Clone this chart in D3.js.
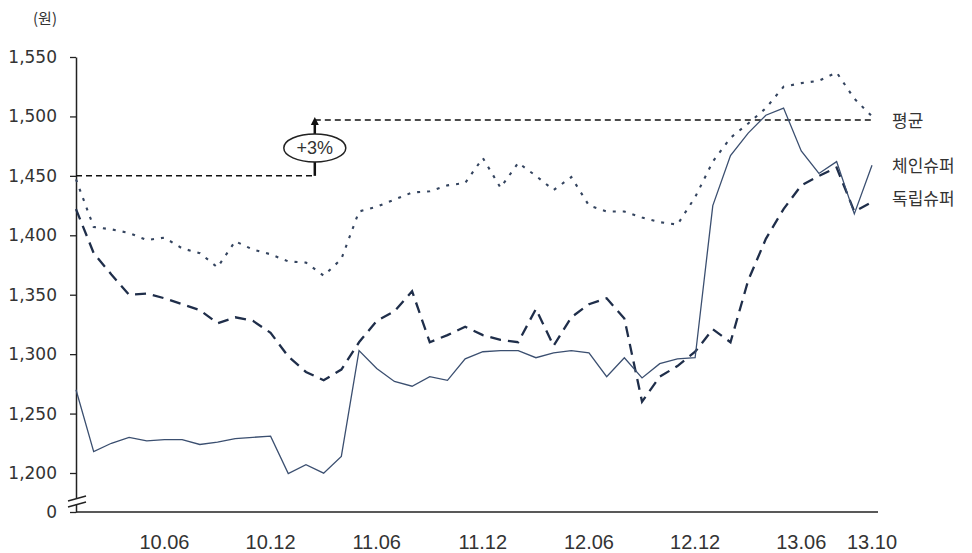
<!DOCTYPE html>
<html>
<head>
<meta charset="utf-8">
<script src="https://cdn.jsdelivr.net/npm/d3@7/dist/d3.min.js"></script>
<style>
  body { margin: 0; background: #fff; }
  svg text { fill: #333; }
</style>
</head>
<body>
<svg id="chart" width="972" height="553"></svg>
<script>
// monthly categories, 2010.01 - 2013.10
var months = [
  "10.01","10.02","10.03","10.04","10.05","10.06","10.07","10.08","10.09","10.10","10.11","10.12",
  "11.01","11.02","11.03","11.04","11.05","11.06","11.07","11.08","11.09","11.10","11.11","11.12",
  "12.01","12.02","12.03","12.04","12.05","12.06","12.07","12.08","12.09","12.10","12.11","12.12",
  "13.01","13.02","13.03","13.04","13.05","13.06","13.07","13.08","13.09","13.10"
];
var tickMonths = ["10.06","10.12","11.06","11.12","12.06","12.12","13.06","13.10"];
var yTicks = [0, 1200, 1250, 1300, 1350, 1400, 1450, 1500, 1550];

// 체인슈퍼
var chainSuper = [
  1270,1218,1225,1230,1227,1228,1228,1224,1226,1229,1230,1231,
  1180,1207,1196,1214,1303,1288,1277,1273,1281,1278,1296,1302,
  1303,1303,1297,1301,1303,1301,1281,1297,1280,1292,1296,1297,
  1425,1467,1486,1501,1507,1471,1452,1462,1418,1459
];
// 독립슈퍼
var indepSuper = [
  1422,1385,1367,1350,1351,1347,1342,1337,1326,1331,1328,1318,
  1298,1285,1278,1287,1310,1328,1336,1353,1310,1316,1323,1316,
  1312,1310,1338,1307,1331,1342,1347,1330,1260,1281,1290,1302,
  1321,1310,1362,1397,1422,1442,1450,1457,1420,1428
];
// 평균
var average = [
  1447,1407,1405,1402,1396,1398,1389,1385,1373,1395,1388,1384,
  1378,1377,1366,1380,1420,1424,1430,1436,1437,1442,1444,1465,
  1440,1461,1450,1438,1449,1425,1420,1420,1415,1411,1409,1432,
  1462,1482,1494,1507,1525,1528,1530,1537,1515,1500
];

// average level before / after, and where the jump is marked
var levelBefore = 1450;
var levelAfter = 1497;
var jumpAt = 13.5;   // between 11.02 and 11.03
var jumpLabel = "+3%";

var svg = d3.select("#chart");

var x = d3.scaleLinear().domain([0, months.length - 1]).range([76, 872]);
// broken axis: 0 sits just under the 1,200 line
var y = d3.scaleLinear().domain([0, 1200, 1550]).range([512, 473, 57]);

// y axis
var yAxis = d3.axisLeft(y)
  .tickValues(yTicks)
  .tickSize(6)
  .tickSizeOuter(0)
  .tickPadding(13)
  .tickFormat(d3.format(","));
var gy = svg.append("g").attr("transform", "translate(76,0)").call(yAxis);
gy.select(".domain").attr("stroke", "#222").attr("stroke-width", 1.5);
gy.selectAll(".tick line").attr("stroke", "#222").attr("stroke-width", 1.3);
gy.selectAll("text")
  .attr("font-family", "DejaVu Sans")
  .attr("font-size", 17)
  .attr("fill", "#3a3a3a");

// axis break marks
var yb = y(0) - 11;
svg.append("rect").attr("x", 72).attr("y", yb - 3).attr("width", 8).attr("height", 6).attr("fill", "#fff");
[-3, 3].forEach(function(o) {
  svg.append("line")
    .attr("x1", 68).attr("y1", yb + o + 3)
    .attr("x2", 86).attr("y2", yb + o - 2)
    .attr("stroke", "#222").attr("stroke-width", 1.3);
});

// x baseline
svg.append("line")
  .attr("x1", 76).attr("x2", x.range()[1] + 6)
  .attr("y1", y(0)).attr("y2", y(0))
  .attr("stroke", "#222").attr("stroke-width", 1.6);

// x labels
svg.append("g").selectAll("text")
  .data(tickMonths)
  .join("text")
  .attr("x", function(d) { return x(months.indexOf(d)); })
  .attr("y", 549)
  .attr("text-anchor", "middle")
  .attr("font-family", "Liberation Sans")
  .attr("font-size", 20)
  .attr("fill", "#3a3a3a")
  .text(function(d) { return d; });

// unit
svg.append("text")
  .attr("x", 45).attr("y", 24)
  .attr("text-anchor", "middle")
  .attr("font-family", "Noto Sans CJK KR")
  .attr("font-size", 15)
  .text("(원)");

// reference levels
svg.append("line")
  .attr("x1", x(0)).attr("x2", x(jumpAt))
  .attr("y1", y(levelBefore)).attr("y2", y(levelBefore))
  .attr("stroke", "#111").attr("stroke-width", 1.5).attr("stroke-dasharray", "6,4");
svg.append("line")
  .attr("x1", x(jumpAt)).attr("x2", x(months.length - 1))
  .attr("y1", y(levelAfter)).attr("y2", y(levelAfter))
  .attr("stroke", "#111").attr("stroke-width", 1.5).attr("stroke-dasharray", "6,4");

// lines
var line = d3.line()
  .x(function(d, i) { return x(i); })
  .y(function(d) { return y(d); });

svg.append("path").datum(average)
  .attr("d", line).attr("fill", "none")
  .attr("stroke", "#34445f").attr("stroke-width", 2.1)
  .attr("stroke-dasharray", "3,7");
svg.append("path").datum(indepSuper)
  .attr("d", line).attr("fill", "none")
  .attr("stroke", "#1f2e4a").attr("stroke-width", 2.3)
  .attr("stroke-dasharray", "11,7");
svg.append("path").datum(chainSuper)
  .attr("d", line).attr("fill", "none")
  .attr("stroke", "#3b4f70").attr("stroke-width", 1.3);

// +3% arrow marker
var ax = x(jumpAt);
var ymid = (y(levelBefore) + y(levelAfter)) / 2;
svg.append("line")
  .attr("x1", ax).attr("x2", ax)
  .attr("y1", y(levelBefore)).attr("y2", y(levelAfter) + 4)
  .attr("stroke", "#111").attr("stroke-width", 2.5);
svg.append("path")
  .attr("d", "M" + (ax - 4) + "," + (y(levelAfter) + 5) + "L" + ax + "," + (y(levelAfter) - 3) + "L" + (ax + 4) + "," + (y(levelAfter) + 5) + "Z")
  .attr("fill", "#111");
svg.append("ellipse")
  .attr("cx", ax).attr("cy", ymid)
  .attr("rx", 31).attr("ry", 14)
  .attr("fill", "#fff").attr("stroke", "#222").attr("stroke-width", 1.5);
svg.append("text")
  .attr("x", ax).attr("y", ymid + 6)
  .attr("text-anchor", "middle")
  .attr("font-family", "Liberation Sans")
  .attr("font-size", 18)
  .text(jumpLabel);

// series labels
var labels = [
  { name: "평균", v: levelAfter },
  { name: "체인슈퍼", v: chainSuper[chainSuper.length - 1] },
  { name: "독립슈퍼", v: indepSuper[indepSuper.length - 1] }
];
svg.append("g").selectAll("text")
  .data(labels)
  .join("text")
  .attr("x", 892)
  .attr("y", function(d, i) { return y(d.v) + (i === 2 ? 3 : 7); })
  .attr("font-family", "Noto Sans CJK KR")
  .attr("font-size", 17)
  .text(function(d) { return d.name; });
</script>
</body>
</html>
